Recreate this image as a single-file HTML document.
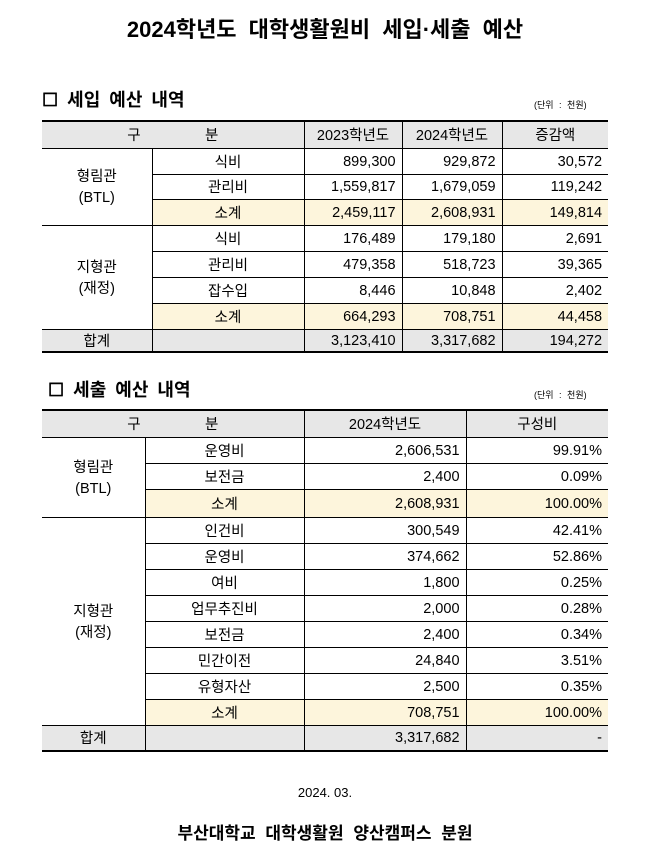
<!DOCTYPE html>
<html><head><meta charset="utf-8"><style>
body{margin:0;width:650px;height:865px;background:#fff;font-family:"Liberation Sans","Noto Sans CJK KR","NanumGothic",sans-serif;color:#000;position:relative;overflow:hidden}
.abs{position:absolute}
table{border-collapse:collapse;table-layout:fixed;position:absolute;left:42px;font-size:14.5px}
td{border:1px solid #000;padding:3px 6px 0 6px;white-space:nowrap;text-align:center;vertical-align:middle;line-height:18px}
td.r{padding-top:1px}
tr td:first-child{border-left:none}
tr td:last-child{border-right:none}
tr:first-child td{border-top:2px solid #000;background:#e7e7e7}
tr:last-child td{border-bottom:2px solid #000;background:#e7e7e7}
.r{text-align:right}
.s td.y{background:#fdf5dc}
.g{background:#fff!important;line-height:21px}
h1{position:absolute;top:12px;left:0;width:650px;text-align:center;font-size:22px;margin:0;font-weight:bold;word-spacing:6px}
.sec{font-size:18px;font-weight:bold;word-spacing:4px}
.unit{font-size:9px;word-spacing:3px}
</style></head><body>
<h1>2024학년도 대학생활원비 세입·세출 예산</h1>
<div class="abs sec" style="left:42px;top:86px">☐ 세입 예산 내역</div>
<div class="abs unit" style="left:534px;top:98px">(단위 : 천원)</div>
<table style="top:120px;width:566px">
<colgroup><col style="width:110px"><col style="width:152px"><col style="width:98px"><col style="width:100px"><col style="width:106px"></colgroup>
<tr style="height:27px"><td colspan="2">구&nbsp;&nbsp;&nbsp;&nbsp;&nbsp;&nbsp;&nbsp;&nbsp;&nbsp;&nbsp;&nbsp;&nbsp;&nbsp;&nbsp;&nbsp;&nbsp;분</td><td>2023학년도</td><td>2024학년도</td><td>증감액</td></tr>
<tr style="height:26px"><td rowspan="3" class="g">형림관<br>(BTL)</td><td>식비</td><td class="r">899,300</td><td class="r">929,872</td><td class="r">30,572</td></tr>
<tr style="height:25px"><td>관리비</td><td class="r">1,559,817</td><td class="r">1,679,059</td><td class="r">119,242</td></tr>
<tr style="height:26px" class="s"><td class="y">소계</td><td class="y r">2,459,117</td><td class="y r">2,608,931</td><td class="y r">149,814</td></tr>
<tr style="height:26px"><td rowspan="4" class="g">지형관<br>(재정)</td><td>식비</td><td class="r">176,489</td><td class="r">179,180</td><td class="r">2,691</td></tr>
<tr style="height:26px"><td>관리비</td><td class="r">479,358</td><td class="r">518,723</td><td class="r">39,365</td></tr>
<tr style="height:26px"><td>잡수입</td><td class="r">8,446</td><td class="r">10,848</td><td class="r">2,402</td></tr>
<tr style="height:26px" class="s"><td class="y">소계</td><td class="y r">664,293</td><td class="y r">708,751</td><td class="y r">44,458</td></tr>
<tr style="height:23px"><td>합계</td><td></td><td class="r">3,123,410</td><td class="r">3,317,682</td><td class="r">194,272</td></tr>
</table>
<div class="abs sec" style="left:48px;top:376px">☐ 세출 예산 내역</div>
<div class="abs unit" style="left:534px;top:388px">(단위 : 천원)</div>
<table style="top:409px;width:566px">
<colgroup><col style="width:103px"><col style="width:159px"><col style="width:162px"><col style="width:142px"></colgroup>
<tr style="height:27px"><td colspan="2">구&nbsp;&nbsp;&nbsp;&nbsp;&nbsp;&nbsp;&nbsp;&nbsp;&nbsp;&nbsp;&nbsp;&nbsp;&nbsp;&nbsp;&nbsp;&nbsp;분</td><td>2024학년도</td><td>구성비</td></tr>
<tr style="height:26px"><td rowspan="3" class="g">형림관<br>(BTL)</td><td>운영비</td><td class="r">2,606,531</td><td class="r">99.91%</td></tr>
<tr style="height:26px"><td>보전금</td><td class="r">2,400</td><td class="r">0.09%</td></tr>
<tr style="height:28px" class="s"><td class="y">소계</td><td class="y r">2,608,931</td><td class="y r">100.00%</td></tr>
<tr style="height:26px"><td rowspan="8" class="g">지형관<br>(재정)</td><td>인건비</td><td class="r">300,549</td><td class="r">42.41%</td></tr>
<tr style="height:26px"><td>운영비</td><td class="r">374,662</td><td class="r">52.86%</td></tr>
<tr style="height:26px"><td>여비</td><td class="r">1,800</td><td class="r">0.25%</td></tr>
<tr style="height:26px"><td>업무추진비</td><td class="r">2,000</td><td class="r">0.28%</td></tr>
<tr style="height:26px"><td>보전금</td><td class="r">2,400</td><td class="r">0.34%</td></tr>
<tr style="height:26px"><td>민간이전</td><td class="r">24,840</td><td class="r">3.51%</td></tr>
<tr style="height:26px"><td>유형자산</td><td class="r">2,500</td><td class="r">0.35%</td></tr>
<tr style="height:26px" class="s"><td class="y">소계</td><td class="y r">708,751</td><td class="y r">100.00%</td></tr>
<tr style="height:26px"><td>합계</td><td></td><td class="r">3,317,682</td><td class="r">-</td></tr>
</table>
<div class="abs" style="left:0;width:650px;text-align:center;top:785px;font-size:13px">2024. 03.</div>
<div class="abs" style="left:0;width:650px;text-align:center;top:819px;font-size:17px;font-weight:bold;word-spacing:5px">부산대학교 대학생활원 양산캠퍼스 분원</div>
</body></html>
